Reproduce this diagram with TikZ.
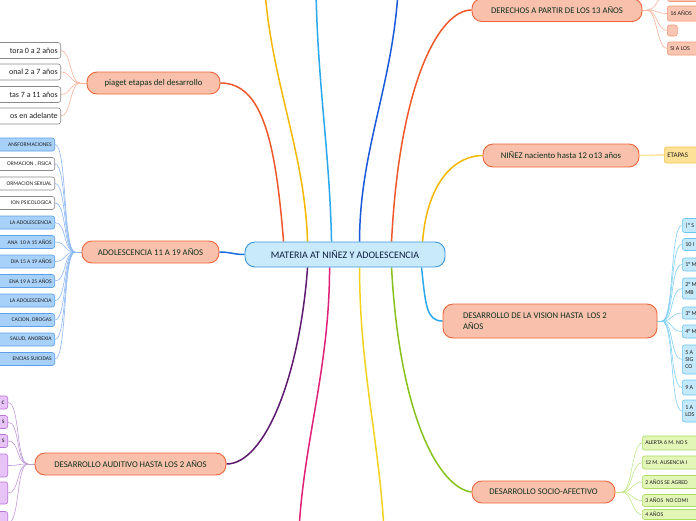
\documentclass[tikz,border=0pt]{standalone}
\usepackage{fontspec}
\setmainfont{Carlito}
\pgfdeclarelayer{bg}
\pgfdeclarelayer{paper}
\pgfsetlayers{paper,bg,main}
\definecolor{hubfill}{HTML}{C8EAFB}
\definecolor{hubdraw}{HTML}{3C96DE}
\definecolor{hubtext}{HTML}{0E1E40}
\definecolor{salfill}{HTML}{F9C0AB}
\definecolor{saldraw}{HTML}{F0643A}
\definecolor{brtext}{HTML}{0E3020}
\definecolor{leaftext}{HTML}{202020}
\definecolor{graydraw}{HTML}{8A8A8A}
\definecolor{bluefill}{HTML}{A8D1FA}
\definecolor{bluedraw}{HTML}{5C9FEA}
\definecolor{purpfill}{HTML}{E8C3F7}
\definecolor{purpdraw}{HTML}{B873D8}
\definecolor{lsalfill}{HTML}{FAC6B2}
\definecolor{lsaldraw}{HTML}{F39A7A}
\definecolor{yelfill}{HTML}{FDE196}
\definecolor{yeldraw}{HTML}{F6C552}
\definecolor{lbfill}{HTML}{C3E9FB}
\definecolor{lbdraw}{HTML}{6CC6F2}
\definecolor{grfill}{HTML}{E2F6B8}
\definecolor{grdraw}{HTML}{AEDD60}
\definecolor{cOrange}{HTML}{F0582A}
\definecolor{cBlue}{HTML}{1A6FE0}
\definecolor{cPurple}{HTML}{5E1A6E}
\definecolor{cPink}{HTML}{E0207A}
\definecolor{cYellow}{HTML}{F5B800}
\definecolor{cYellowB}{HTML}{F2D21E}
\definecolor{cGreen}{HTML}{86C21A}
\definecolor{cLBlue}{HTML}{2AA8EC}
\definecolor{cDBlue}{HTML}{1A5AD8}
\definecolor{kSal}{HTML}{F7B49A}
\definecolor{kBlue}{HTML}{8CB8F5}
\definecolor{kPurp}{HTML}{C29BD9}
\definecolor{kYel}{HTML}{FDE6A0}
\definecolor{kLB}{HTML}{80D0F5}
\definecolor{kGr}{HTML}{C4E88A}
\begin{document}
\begin{tikzpicture}[x=1pt,y=-1pt,
  hubbox/.style={draw=hubdraw,fill=hubfill,line width=0.9pt,rounded corners=10pt,minimum width=200pt,minimum height=25pt,inner sep=0pt,text=hubtext,font=\fontsize{10}{12}\selectfont},
  brbox/.style={draw=saldraw,fill=salfill,line width=0.9pt,rounded corners=10pt,minimum height=22pt,inner sep=0pt,text=brtext,font=\fontsize{8.7}{10}\selectfont},
  leafL/.style={rounded corners=2.5pt,line width=0.6pt,anchor=east,text width=80pt,align=flush right,inner xsep=3pt,inner ysep=0pt,text=leaftext,minimum height=13pt},
  leafR/.style={rounded corners=2.5pt,line width=0.6pt,anchor=west,text width=60pt,align=flush left,inner xsep=3pt,inner ysep=0pt,text=leaftext,minimum height=13pt,font=\fontsize{6}{7.4}\selectfont},
  whiteleaf/.style={leafL,draw=graydraw,fill=white},
  blueleaf/.style={leafL,draw=bluedraw,fill=bluefill},
  purpleaf/.style={leafL,draw=purpdraw,fill=purpfill,font=\fontsize{7}{8}\selectfont},
  salleaf/.style={leafR,draw=lsaldraw,fill=lsalfill},
  yelleaf/.style={leafR,draw=yeldraw,fill=yelfill,font=\fontsize{7}{8}\selectfont},
  lbleaf/.style={leafR,draw=lbdraw,fill=lbfill},
  grleaf/.style={leafR,draw=grdraw,fill=grfill,font=\fontsize{5.8}{7}\selectfont},
  adolfont/.style={font=\fontsize{5.6}{7}\selectfont},
  mainline/.style={line width=1.5pt},
  leafline/.style={line width=0.6pt}
]
\useasboundingbox (0,0) rectangle (696,520);
\clip (0,0) rectangle (696,520);
\begin{pgfonlayer}{paper}
\fill[white] (0,0) rectangle (696,520);
\end{pgfonlayer}

% hub
\node[hubbox] (hub) at (345,254.5) {MATERIA AT NIÑEZ Y ADOLESCENCIA};

% branches
\node[brbox,minimum width=133pt] (piaget) at (153.5,83) {piaget etapas del desarrollo};
\node[brbox,minimum width=137pt] (adol) at (150.5,252) {ADOLESCENCIA 11 A 19 AÑOS};
\node[brbox,minimum width=191pt] (audit) at (130.5,464) {DESARROLLO AUDITIVO HASTA LOS 2 AÑOS};
\node[brbox,minimum width=170pt,minimum height=23pt] (derech) at (557,10) {DERECHOS A PARTIR DE LOS 13 AÑOS};
\node[brbox,minimum width=156pt,minimum height=23pt] (ninez) at (561,155.5) {NIÑEZ naciento hasta 12 o13 años};
\node[brbox,minimum width=214pt,minimum height=34pt,text width=174pt,inner xsep=20pt,align=flush left,font=\fontsize{8.7}{11.5}\selectfont] (vision) at (550,321) {DESARROLLO DE LA VISION HASTA\ \ LOS 2\\AÑOS};
\node[brbox,minimum width=143pt] (socio) at (543.5,492) {DESARROLLO SOCIO-AFECTIVO};

% piaget leaves
\node[whiteleaf,minimum height=16pt,font=\fontsize{8}{9}\selectfont] (p1) at (61,50.5) {tora 0 a 2 años};
\node[whiteleaf,minimum height=16pt,font=\fontsize{8}{9}\selectfont] (p2) at (61,72) {onal 2 a 7 años};
\node[whiteleaf,minimum height=16pt,font=\fontsize{8}{9}\selectfont] (p3) at (61,94.5) {tas 7 a 11 años};
\node[whiteleaf,minimum height=16pt,font=\fontsize{8}{9}\selectfont] (p4) at (61,116) {os en adelante};

% adolescence leaves
\node[blueleaf,adolfont] (a1) at (55,144.5) {ANSFORMACIONES};
\node[whiteleaf,adolfont] (a2) at (55,164) {ORMACION , FISICA};
\node[whiteleaf,adolfont] (a3) at (55,183.5) {ORMACION SEXUAL};
\node[whiteleaf,adolfont] (a4) at (55,203) {ION PSICOLOGICA};
\node[blueleaf,adolfont] (a5) at (55,222.5) {LA ADOLESCENCIA};
\node[blueleaf,adolfont] (a6) at (55,242) {ANA\ \ 10 A 15 AÑOS};
\node[blueleaf,adolfont] (a7) at (55,261.5) {DIA 15 A 19 AÑOS};
\node[blueleaf,adolfont] (a8) at (55,281) {ENA 19 A 25 AÑOS};
\node[blueleaf,adolfont] (a9) at (55,300.5) {LA ADOLESCENCIA};
\node[blueleaf,adolfont] (a10) at (55,320) {CACION, DROGAS};
\node[blueleaf,adolfont] (a11) at (55,339.5) {SALUD, ANOREXIA};
\node[blueleaf,adolfont] (a12) at (55,359) {ENCIAS SUICIDAS};

% auditory leaves
\node[purpleaf] (u1) at (8,402.5) {c};
\node[purpleaf] (u2) at (8,422) {s};
\node[purpleaf] (u3) at (8,441) {s};
\node[purpleaf,minimum height=23pt] (u4) at (8,465.5) {};
\node[purpleaf,minimum height=22pt] (u5) at (8,493) {};
\node[purpleaf,minimum height=23pt] (u6) at (8,523) {};

% rights leaves
\node[salleaf] (d1) at (667,-5) {};
\node[salleaf,minimum height=15pt] (d2) at (667,13.5) {16 AÑOS};
\node[salleaf,text width=4pt,minimum height=11pt] (d3) at (667,30.5) {};
\node[salleaf] (d4) at (667,48.5) {SI A LOS};

% childhood leaf
\node[yelleaf,minimum height=16pt] (n1) at (664,155) {ETAPAS};

% vision leaves
\node[lbleaf,minimum height=14pt] (v1) at (682,225.5) {|° S};
\node[lbleaf,minimum height=12pt] (v2) at (682,244.5) {10 I};
\node[lbleaf,minimum height=13pt] (v3) at (682,264.5) {1° M};
\node[lbleaf,minimum height=21pt] (v4) at (682,288.5) {2° M\\MB};
\node[lbleaf,minimum height=12pt] (v5) at (682,313) {3° M};
\node[lbleaf,minimum height=13pt] (v6) at (682,331.5) {4° M};
\node[lbleaf,minimum height=29pt] (v7) at (682,359.5) {5 A\\SIG\\CO};
\node[lbleaf,minimum height=15pt] (v8) at (682,387.5) {9 A};
\node[lbleaf,minimum height=22pt] (v9) at (682,411) {1 A\\LOS};

% socio leaves
\node[grleaf,minimum height=14pt] (s1) at (642,443) {ALERTA 6 M. NO S};
\node[grleaf,minimum height=13pt] (s2) at (642,462.5) {12 M. AUSENCIA I};
\node[grleaf,minimum height=13pt] (s3) at (642,482) {2 AÑOS SE AGRED};
\node[grleaf,minimum height=12pt] (s4) at (642,500.5) {3 AÑOS\ \ NO COMI};
\node[grleaf,minimum height=10pt] (s5) at (642,514.5) {4 AÑOS};

% junctions and free ends
\coordinate (jp) at (80,83);
\coordinate (ja) at (75,252);
\coordinate (ju) at (28,464);
\coordinate (jd) at (647,10);
\coordinate (jv) at (662,321);
\coordinate (js) at (622,492);
\coordinate (endPink) at (299,530);
\coordinate (endYelB) at (384,530);
\coordinate (endYelT) at (265,-8);
\coordinate (endLBT) at (316,-8);
\coordinate (endDBT) at (398,-8);

\begin{pgfonlayer}{bg}
% main connectors
\draw[mainline,cOrange] ([xshift=39pt]hub.north west) .. controls +(-8,-100) and +(42,0) .. (piaget.east);
\draw[mainline,cBlue] (hub.west) .. controls +(-12,0) and +(12,0) .. (adol.east);
\draw[mainline,cPurple] ([xshift=63pt]hub.south west) .. controls +(-8,110) and +(38,0) .. (audit.east);
\draw[mainline,cPink] ([xshift=85pt]hub.south west) .. controls +(0,100) and +(5,-90) .. (endPink);
\draw[mainline,cYellowB] ([xshift=115pt]hub.south west) .. controls +(0,100) and +(-5,-90) .. (endYelB);
\draw[mainline,cGreen] ([xshift=147pt]hub.south west) .. controls +(8,150) and +(-32,-4) .. (socio.west);
\draw[mainline,cLBlue] ([xshift=177pt]hub.south west) .. controls +(4,38) and +(-16,0) .. (vision.west);
\draw[mainline,cYellow] ([xshift=63pt]hub.north west) .. controls +(-3,-90) and +(8,95) .. (endYelT);
\draw[mainline,cLBlue] ([xshift=87pt]hub.north west) .. controls +(-2,-90) and +(2,95) .. (endLBT);
\draw[mainline,cDBlue] ([xshift=115pt]hub.north west) .. controls +(0,-90) and +(-6,95) .. (endDBT);
\draw[mainline,cOrange] ([xshift=147pt]hub.north west) .. controls +(8,-160) and +(-32,0) .. (derech.west);
\draw[mainline,cYellow] ([xshift=178pt]hub.north west) .. controls +(5,-62) and +(-26,0) .. (ninez.west);

% piaget leaf connectors
\draw[leafline,kSal] (jp) -- (piaget.west);
\foreach \n in {p1,p2,p3,p4}
  \draw[leafline,kSal] (\n.east) .. controls +(10,0) and +(-10,0) .. (jp);
% adolescence
\draw[leafline,kBlue] (ja) -- (adol.west);
\foreach \n in {a1,a2,a3,a4,a5,a6,a7,a8,a9,a10,a11,a12}
  \draw[leafline,kBlue] (\n.east) .. controls +(12,0) and +(-12,0) .. (ja);
% auditory
\draw[leafline,kPurp] (ju) -- (audit.west);
\foreach \n in {u1,u2,u3,u4,u5,u6}
  \draw[leafline,kPurp] (\n.east) .. controls +(12,0) and +(-12,0) .. (ju);
% rights
\draw[leafline,kSal] (derech.east) -- (jd);
\foreach \n in {d1,d2,d3,d4}
  \draw[leafline,kSal] (jd) .. controls +(10,0) and +(-10,0) .. (\n.west);
% childhood
\draw[line width=1.6pt,kYel] (ninez.east) -- (n1.west);
% vision
\foreach \n in {v1,v2,v3,v4,v5,v6,v7,v8,v9}
  \draw[leafline,kLB] (jv) .. controls +(12,0) and +(-12,0) .. (\n.west);
\draw[leafline,kLB] (vision.east) -- (jv);
% socio
\draw[leafline,kGr] (socio.east) -- (js);
\foreach \n in {s1,s2,s3,s4,s5}
  \draw[leafline,kGr] (js) .. controls +(10,0) and +(-10,0) .. (\n.west);
\end{pgfonlayer}
\end{tikzpicture}
\end{document}
